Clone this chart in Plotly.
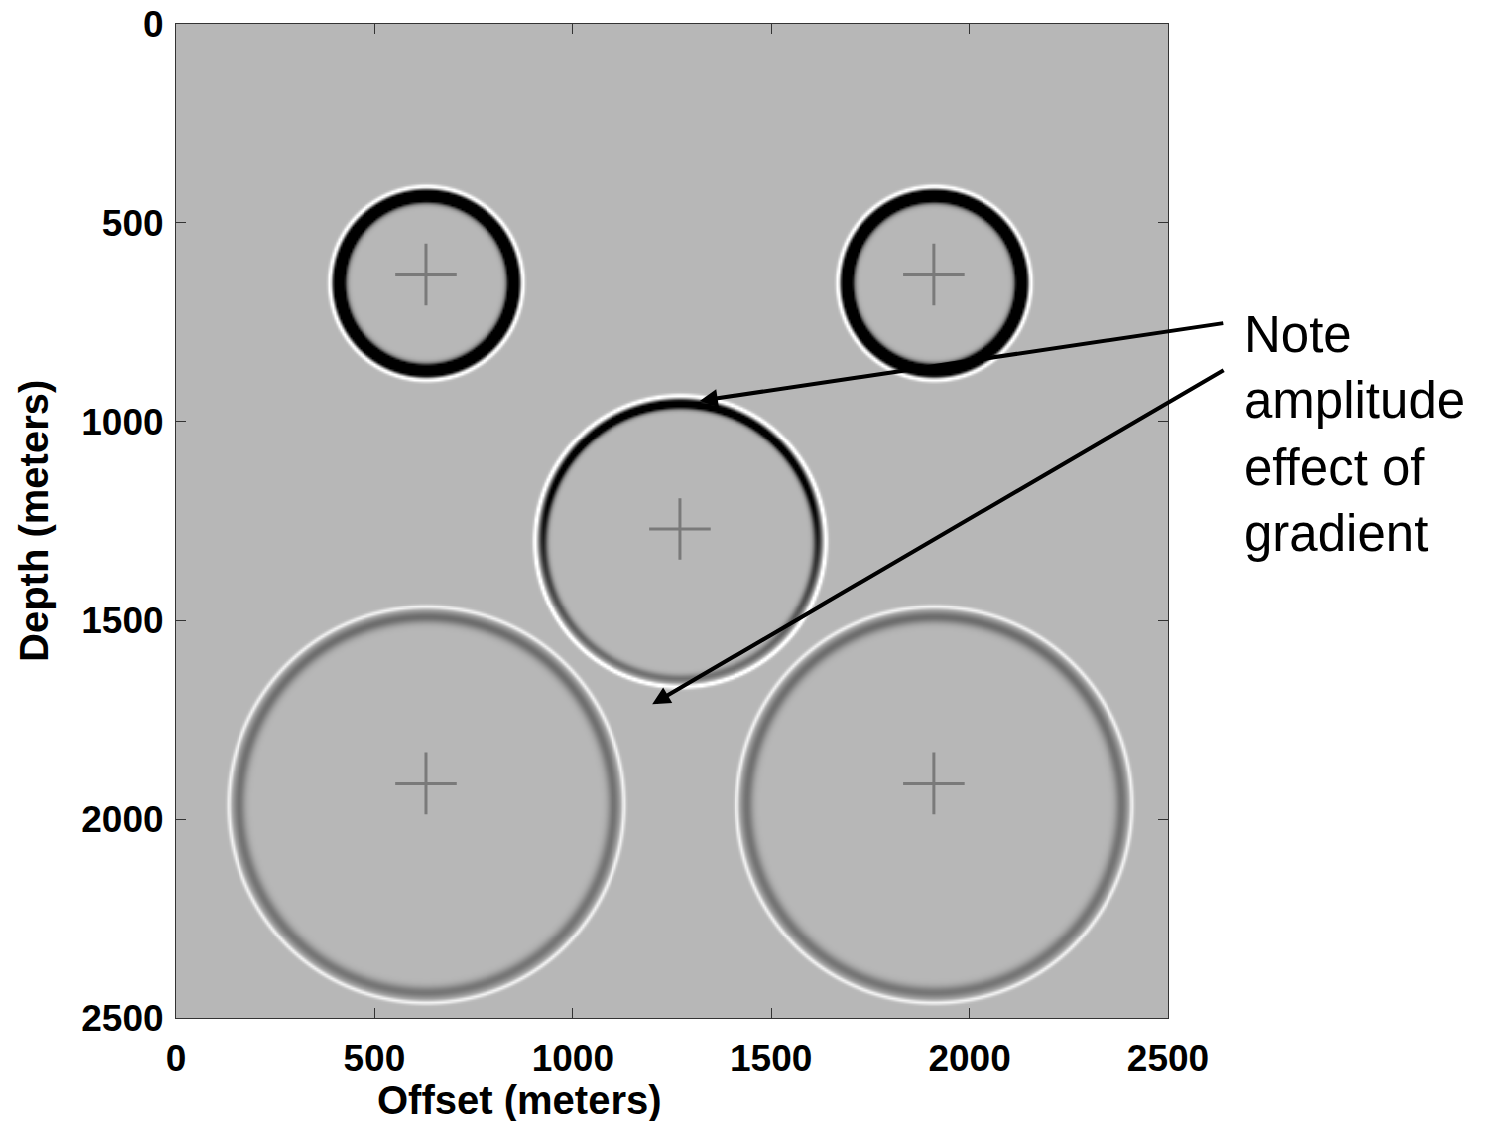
import numpy as np
import plotly.graph_objects as go

# ---- data ----
source_x = [630, 1910, 1270, 630, 1910]          # source offsets (m)
source_z = [630, 630, 1270, 1910, 1910]          # source depths (m)
front_center_z = [651, 651, 1300, 1963, 1963]    # wavefront circle centre depth (m)
front_radius = [249, 249, 372, 504, 504]         # wavefront radius (m)
peak_amp = [110, 110, 100, 65, 65]               # leading (white) peak amplitude
trough_top = [440, 440, 300, 75, 75]             # trailing trough amplitude at top of front
trough_bottom = [440, 440, 70, 66, 66]           # trailing trough amplitude at bottom of front
trough_width = [14, 14, 11, 16, 16]              # trough half-width (m)
background_level = 183
x_ticks = [0, 500, 1000, 1500, 2000, 2500]
y_ticks = [0, 500, 1000, 1500, 2000, 2500]

# ---- build wavefield image ----
grid = np.arange(0, 2501, 5.0)
X, Z = np.meshgrid(grid, grid)
field = np.full(X.shape, float(background_level))
for xs, zc, R, pa, tt, tb, tw in zip(source_x, front_center_z, front_radius,
                                     peak_amp, trough_top, trough_bottom, trough_width):
    r = np.hypot(X - xs, Z - zc)
    d = r - R
    cosphi = -(Z - zc) / np.maximum(r, 1e-6)
    D = tb + (tt - tb) * ((1 + cosphi) / 2) ** 1.5
    field += pa * np.exp(-((d + 6) / 5.5) ** 2)
    field -= D * np.exp(-((d + 14 + 1.1 * tw) / tw) ** 2)
field = np.clip(field, 0, 255).round(0)

fig = go.Figure()
fig.add_trace(go.Heatmap(
    x=grid, y=grid, z=field, zmin=0, zmax=255,
    colorscale=[[0, "rgb(0,0,0)"], [1, "rgb(255,255,255)"]],
    showscale=False, hoverinfo="skip", zsmooth="best"))
fig.add_trace(go.Scatter(
    x=source_x, y=source_z, mode="markers",
    marker=dict(symbol="cross-thin", size=44, color="#7a7a7a",
                line=dict(color="#7a7a7a", width=3)),
    showlegend=False, hoverinfo="skip"))

tickfont = dict(family="Liberation Sans, Arial, sans-serif", size=37, color="black")
axis_common = dict(
    showline=True, linecolor="#333333", linewidth=1, mirror="ticks",
    ticks="inside", ticklen=10, tickwidth=1, tickcolor="#333333",
    showgrid=False, zeroline=False, tickfont=tickfont, automargin=False,
)
fig.update_xaxes(range=[0, 2500], tickvals=x_ticks, ticktext=[f"<b>{v}</b>" for v in x_ticks],
                 ticklabelstandoff=8, **axis_common)
fig.update_yaxes(range=[2500, 0], tickvals=y_ticks, ticktext=[f"<b>{v}</b>" for v in y_ticks],
                 ticklabelstandoff=4, **axis_common)

titlefont = dict(family="Liberation Sans, Arial, sans-serif", size=40, color="black")
fig.add_annotation(text="<b>Offset (meters)</b>", xref="paper", yref="paper",
                   x=0.3458, y=0, yshift=-82, xanchor="center", yanchor="middle",
                   showarrow=False, font=titlefont)
fig.add_annotation(text="<b>Depth (meters)</b>", xref="paper", yref="paper",
                   x=0, y=0.5, xshift=-142, xanchor="center", yanchor="middle",
                   textangle=-90, showarrow=False, font=titlefont)

notefont = dict(family="Liberation Sans, Arial, sans-serif", size=51, color="black")
fig.add_annotation(text="Note<br>amplitude<br>effect of<br>gradient",
                   xref="paper", yref="paper", x=1, y=1, xshift=74, yshift=-280,
                   xanchor="left", yanchor="top", align="left", showarrow=False,
                   font=notefont)

# arrows (head at data point, tail in pixels)
fig.add_annotation(x=1320, y=948, xref="x", yref="y", ax=525, ay=-78,
                   axref="pixel", ayref="pixel", text="", showarrow=True,
                   arrowhead=2, arrowsize=0.9, arrowwidth=4, arrowcolor="black")
fig.add_annotation(x=1200, y=1711, xref="x", yref="y", ax=573, ay=-335,
                   axref="pixel", ayref="pixel", text="", showarrow=True,
                   arrowhead=2, arrowsize=0.9, arrowwidth=4, arrowcolor="black")

fig.update_layout(
    width=1491, height=1121,
    margin=dict(l=176, r=323, t=24, b=103),
    paper_bgcolor="white", plot_bgcolor="#b7b7b7",
    showlegend=False,
)
fig.write_html("out.html")
